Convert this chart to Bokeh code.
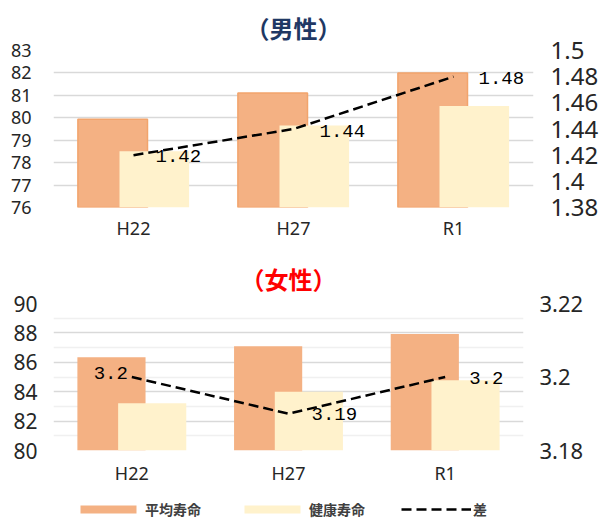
from bokeh.plotting import figure
from bokeh.models import (Range1d, LinearAxis, FixedTicker, CustomJSTickFormatter,
                          ColumnDataSource, Legend, LegendItem)
from bokeh.transform import dodge
from bokeh.layouts import column
from bokeh.embed import file_html
from bokeh.resources import INLINE
from bokeh.core.properties import value

# ---------------- data ----------------
categories = ["H22", "H27", "R1"]
series_names = ["平均寿命", "健康寿命", "差"]

male_avg = [79.93, 81.10, 82.00]
male_healthy = [78.51, 79.66, 80.52]
male_diff = [1.42, 1.44, 1.48]

female_avg = [86.35, 87.10, 87.92]
female_healthy = [83.22, 84.00, 84.78]
female_diff = [3.20, 3.19, 3.20]

male_left_ticks = [76, 77, 78, 79, 80, 81, 82, 83]
male_right_ticks = [1.38, 1.40, 1.42, 1.44, 1.46, 1.48, 1.50]
female_left_ticks = [80, 82, 84, 86, 88, 90]
female_left_minor = [81, 83, 85, 87, 89]
female_right_ticks = [3.18, 3.20, 3.22]

# ---------------- style ----------------
AVG_COLOR = "#F4B183"
AVG_EDGE = "#F2A46C"
HEALTHY_COLOR = "#FFF2CC"
GRID = "#D9D9D9"
MINOR_GRID = "#F0F0F0"
TXT = "#262626"
NUM_FONT = "Noto Sans"
JP_FONT = "Noto Sans CJK JP"
LBL_FONT = "Liberation Mono"
DASH = "10 5"

fmt = CustomJSTickFormatter(code="return String(Number(tick.toFixed(2)));")


def style_axis(ax, size, standoff):
    ax.axis_line_color = None
    ax.major_tick_line_color = None
    ax.minor_tick_line_color = None
    ax.major_tick_out = 0
    ax.major_tick_in = 0
    ax.minor_tick_out = 0
    ax.minor_tick_in = 0
    ax.major_label_text_font = NUM_FONT
    ax.major_label_text_font_size = size
    ax.major_label_text_color = TXT
    ax.major_label_standoff = standoff


def make_chart(title, title_color, avg, healthy, diff, lticks, lminor, rticks,
               frame_w, frame_h, min_left, min_right, min_top, min_bottom,
               left_size, right_size, left_standoff, right_standoff, x_standoff,
               avg_edge, label_dx, label_dy, label_align, title_standoff):
    p = figure(x_range=categories,
               y_range=Range1d(lticks[0], lticks[-1]),
               frame_width=frame_w, frame_height=frame_h,
               min_border_left=min_left, min_border_right=min_right,
               min_border_top=min_top, min_border_bottom=min_bottom,
               output_backend="svg", toolbar_location=None,
               title=title)
    p.title.text_font = JP_FONT
    p.title.text_font_size = "24px"
    p.title.text_font_style = "bold"
    p.title.text_color = title_color
    p.title.align = "center"
    p.title.standoff = title_standoff
    p.outline_line_color = None
    p.background_fill_color = "white"
    p.border_fill_color = "white"

    p.extra_y_ranges = {"diff": Range1d(rticks[0], rticks[-1])}

    src = ColumnDataSource(dict(cat=categories, avg=avg, healthy=healthy, diff=diff,
                                lbl=[f"{v:g}" for v in diff],
                                dx=label_dx, dy=label_dy, al=label_align))

    p.vbar(x=dodge("cat", -0.13, range=p.x_range), top="avg", bottom=lticks[0],
           width=0.435, source=src, fill_color=AVG_COLOR,
           line_color=avg_edge, line_width=1.5 if avg_edge else 0)
    p.vbar(x=dodge("cat", 0.13, range=p.x_range), top="healthy", bottom=lticks[0],
           width=0.435, source=src, fill_color=HEALTHY_COLOR, line_color=None)
    p.line(x="cat", y="diff", source=src, y_range_name="diff",
           line_color="black", line_width=2.5, line_dash=DASH)
    p.text(x="cat", y="diff", text="lbl", source=src, y_range_name="diff",
           x_offset="dx", y_offset="dy", text_align="al", text_baseline="middle",
           text_font=value(LBL_FONT), text_font_size="19px", text_color="black")

    lt = FixedTicker(ticks=lticks, minor_ticks=lminor)
    ya = p.yaxis[0]
    ya.ticker = lt
    style_axis(ya, left_size, left_standoff)

    ra = LinearAxis(y_range_name="diff", ticker=FixedTicker(ticks=rticks), formatter=fmt)
    style_axis(ra, right_size, right_standoff)
    p.add_layout(ra, "right")

    style_axis(p.xaxis[0], "18px", x_standoff)

    p.xgrid.grid_line_color = None
    p.ygrid.ticker = lt
    p.ygrid.grid_line_color = GRID
    p.ygrid.grid_line_width = 1.5
    if lminor:
        p.ygrid.minor_grid_line_color = MINOR_GRID
        p.ygrid.minor_grid_line_width = 1.5
    return p


p1 = make_chart("（男性）", "#1F3864", male_avg, male_healthy, male_diff,
                male_left_ticks, [], male_right_ticks,
                480, 157, 53, 73, 50, 43,
                "18px", "24px", 22, 17, 8,
                AVG_EDGE, [22, 26, 25], [1, 2, 1], ["left", "left", "left"], 12)

p2 = make_chart("（女性）", "#FF0000", female_avg, female_healthy, female_diff,
                female_left_ticks, female_left_minor, female_right_ticks,
                470, 147, 53, 83, 53, 48,
                "21px", "22px", 16, 16, 10,
                None, [-4, 23, 24], [-4, 0, 1], ["right", "left", "left"], 15)

# legend strip: series keys styled like the bottom chart's series
# (the key glyphs' own data lie below this strip's range, so only the legend shows)
p3 = figure(x_range=categories, y_range=Range1d(100, 101), width=606, height=30,
            min_border=0, output_backend="svg", toolbar_location=None)
p3.axis.visible = False
p3.grid.visible = False
p3.outline_line_color = None
p3.border_fill_color = "white"
k_avg = p3.vbar(x=categories, top=female_avg, bottom=female_healthy, width=0.4,
                fill_color=AVG_COLOR, line_color=None)
k_h = p3.vbar(x=categories, top=female_healthy, bottom=female_left_ticks[0], width=0.4,
              fill_color=HEALTHY_COLOR, line_color=None)
k_line = p3.line(x=categories, y=female_diff, line_color="black",
                 line_width=2.5, line_dash=DASH)

legend = Legend(items=[LegendItem(label=n, renderers=[r])
                       for n, r in zip(series_names, [k_avg, k_h, k_line])],
                orientation="horizontal", location=(20, 9),
                glyph_width=70, glyph_height=10, label_height=16,
                label_standoff=2, spacing=36, padding=0, margin=0,
                border_line_color=None, background_fill_alpha=0,
                label_text_font=JP_FONT, label_text_font_size="14px",
                label_text_font_style="bold", label_text_color="#404040")
p3.add_layout(legend, "center")

layout = column(p1, p2, p3)
open("out.html", "w").write(file_html(layout, INLINE))
